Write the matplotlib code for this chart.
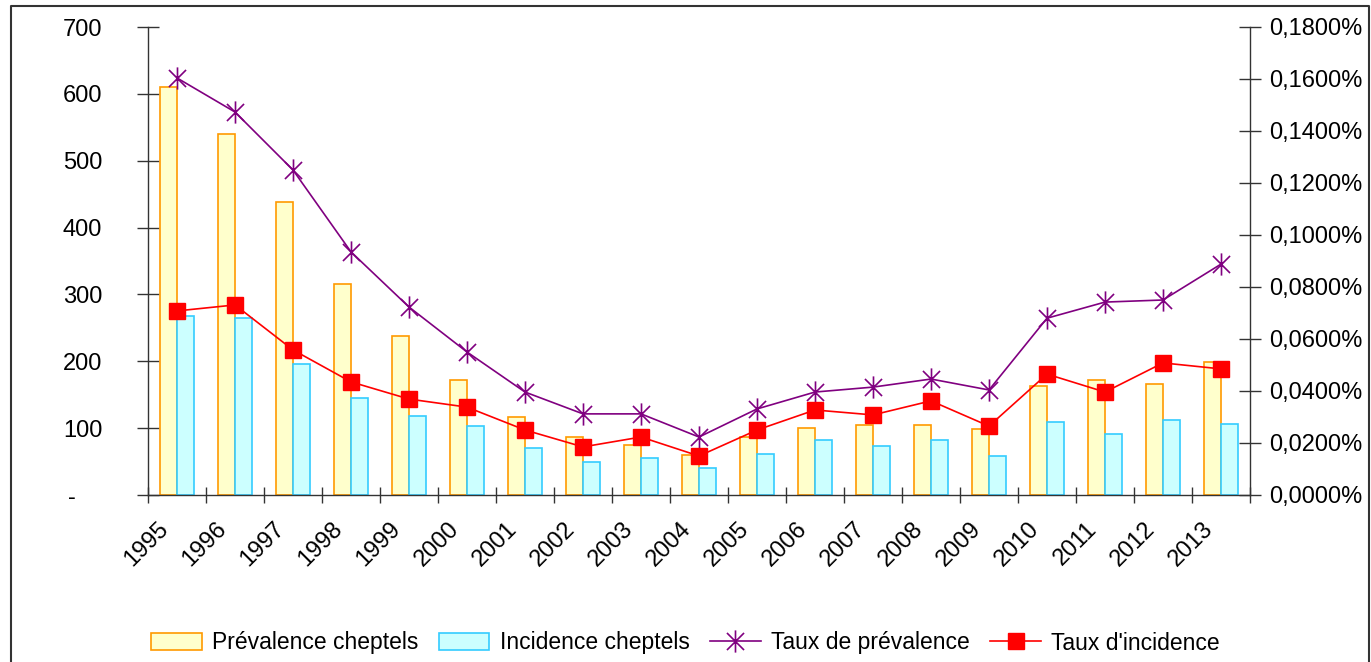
import matplotlib
matplotlib.use("Agg")
import matplotlib.pyplot as plt
from matplotlib.path import Path
from matplotlib.lines import Line2D
from matplotlib.ticker import FuncFormatter, FixedLocator
import numpy as np

plt.rcParams['font.family'] = ['Liberation Sans', 'DejaVu Sans']

years = ["1995", "1996", "1997", "1998", "1999", "2000", "2001", "2002", "2003", "2004",
         "2005", "2006", "2007", "2008", "2009", "2010", "2011", "2012", "2013"]
prevalence_cheptels = [610, 540, 438, 316, 238, 172, 116, 87, 75, 60,
                       87, 100, 104, 104, 98, 163, 172, 166, 199]
incidence_cheptels = [268, 265, 196, 145, 118, 103, 70, 49, 55, 40,
                      61, 82, 73, 82, 58, 109, 91, 112, 106]
taux_prevalence = [0.1604, 0.1473, 0.1250, 0.0935, 0.0723, 0.0550, 0.0396, 0.0312, 0.0312, 0.0223,
                   0.0331, 0.0396, 0.0415, 0.0446, 0.0404, 0.0680, 0.0742, 0.0750, 0.0888]
taux_incidence = [0.0708, 0.0731, 0.0558, 0.0435, 0.0369, 0.0338, 0.0250, 0.0185, 0.0223, 0.0150,
                  0.0250, 0.0327, 0.0308, 0.0362, 0.0265, 0.0465, 0.0396, 0.0508, 0.0485]
left_ticks = [0, 100, 200, 300, 400, 500, 600, 700]
right_ticks = [0.0, 0.02, 0.04, 0.06, 0.08, 0.10, 0.12, 0.14, 0.16, 0.18]
labels = ["Prévalence cheptels", "Incidence cheptels", "Taux de prévalence", "Taux d'incidence"]

W, H = 1371, 662
FS = 17
fig = plt.figure(figsize=(W / 100, H / 100), dpi=100)
ax = fig.add_axes([148 / W, 1 - 495 / H, (1250 - 148) / W, (495 - 27) / H])
ax2 = ax.twinx()

x = np.arange(len(years))
bw = 0.3
b1 = ax.bar(x - bw / 2, prevalence_cheptels, width=bw, color='#FFFFCC', edgecolor='#FF9900',
            linewidth=1.2, zorder=2)
b2 = ax.bar(x + bw / 2, incidence_cheptels, width=bw, color='#CCFFFF', edgecolor='#33CCFF',
            linewidth=1.2, zorder=2)

star = Path([(-1, -1), (1, 1), (-1, 1), (1, -1), (0, -1.3), (0, 1.3)],
            [Path.MOVETO, Path.LINETO, Path.MOVETO, Path.LINETO, Path.MOVETO, Path.LINETO])
l1, = ax2.plot(x, taux_prevalence, color='#800080', linewidth=1.2, marker=star,
               markersize=16, markeredgecolor='#800080', markeredgewidth=1.2, zorder=3)
l2, = ax2.plot(x, taux_incidence, color='#FF0000', linewidth=1.2, marker='s',
               markersize=12, markerfacecolor='#FF0000', markeredgecolor='#FF0000', zorder=3)

ax.set_xlim(-0.5, len(years) - 0.5)
ax.set_ylim(0, 700)
ax2.set_ylim(0, 0.18)

ax.set_zorder(1)
ax2.set_zorder(2)
ax.patch.set_visible(False)

ax.set_yticks(left_ticks)
ax.yaxis.set_major_formatter(FuncFormatter(lambda v, p: "-    " if v == 0 else f"{int(v)}"))
ax2.set_yticks(right_ticks)
ax2.yaxis.set_major_formatter(FuncFormatter(lambda v, p: f"{v:.4f}".replace('.', ',') + "%"))

ax.xaxis.set_major_locator(FixedLocator(np.arange(-0.5, len(years), 1.0)))
ax.set_xticklabels([])
# year labels: anchored slightly left of each category centre
ax.xaxis.set_minor_locator(FixedLocator(x - 0.2))
ax.set_xticklabels(years, minor=True, rotation=45, ha='right', va='center',
                   rotation_mode='anchor', fontsize=FS)
ax.tick_params(axis='x', which='major', direction='inout', length=12, width=1, color='#333333')
ax.tick_params(axis='x', which='minor', length=0, pad=22)

ax.tick_params(axis='y', direction='inout', length=16, width=1, color='#333333', labelsize=FS, pad=25)
ax2.tick_params(axis='y', direction='inout', length=16, width=1, color='#333333', labelsize=FS, pad=6)

for a in (ax, ax2):
    a.spines['top'].set_visible(False)
    for s in ('left', 'right', 'bottom'):
        a.spines[s].set_color('#333333')
        a.spines[s].set_linewidth(1)
ax.spines['right'].set_visible(False)
ax2.spines['left'].set_visible(False)
ax2.spines['bottom'].set_visible(False)

fig.legend([b1, b2, l1, l2], labels, loc='center', bbox_to_anchor=(0.5, 1 - 643 / H), ncol=4,
           frameon=False, fontsize=16.5, handlelength=2.2, handletextpad=0.45, columnspacing=0.9)

# outer frame
fx0, fx1, fy1 = 11 / W, 1369 / W, 1 - 6 / H
fig.add_artist(Line2D([fx0, fx0, fx1, fx1], [0, fy1, fy1, 0], color='#333333', linewidth=1.5,
                      transform=fig.transFigure))

fig.savefig("out.png", dpi=100)
